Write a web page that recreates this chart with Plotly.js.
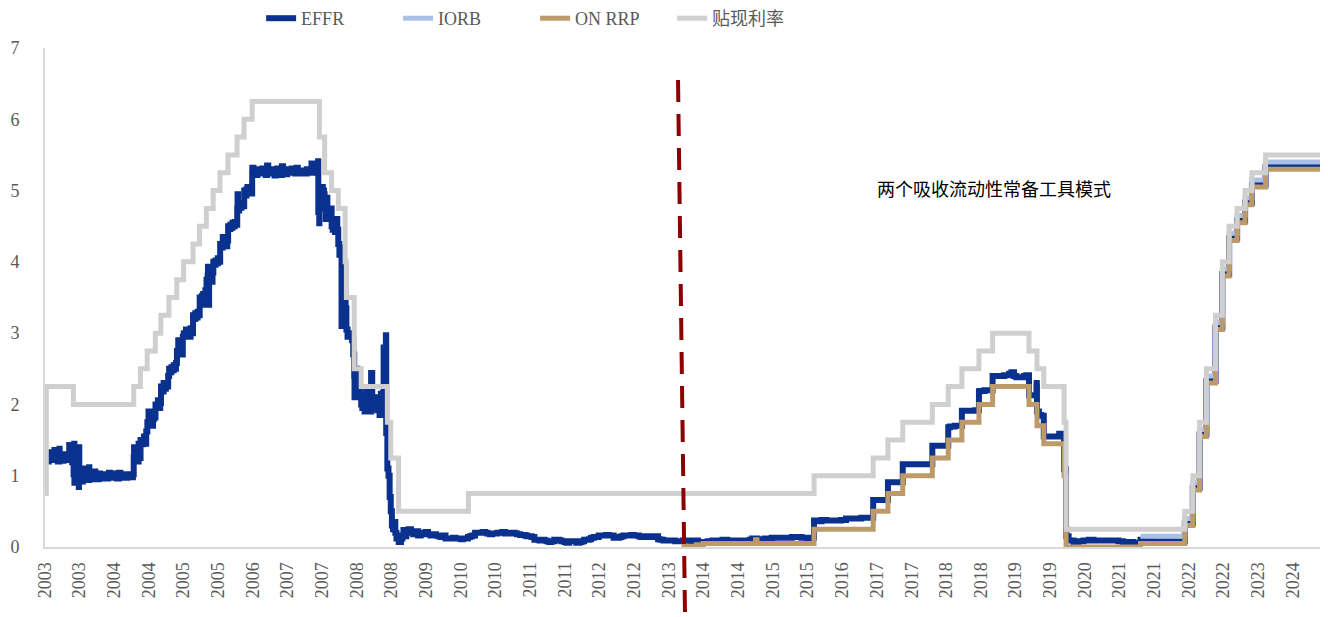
<!DOCTYPE html>
<html>
<head>
<meta charset="utf-8">
<script src="https://cdn.plot.ly/plotly-3.0.1.min.js"></script>
<style>
  html, body { margin: 0; padding: 0; background: #ffffff; }
  #chart { width: 1328px; height: 617px; }
</style>
</head>
<body>
<div id="chart"></div>
<script>
// ---------- tick labels (category-style labels every ~0.58 year) ----------
const tickDates = ['2003-01-02','2003-08-01','2004-03-02','2004-10-02','2005-05-03','2005-12-02','2006-07-03',
  '2007-02-02','2007-09-03','2008-04-04','2008-11-03','2009-06-05','2010-01-04','2010-08-05','2011-03-06',
  '2011-10-06','2012-05-06','2012-12-06','2013-07-07','2014-02-05','2014-09-07','2015-04-08','2015-11-07',
  '2016-06-08','2017-01-08','2017-08-09','2018-03-10','2018-10-09','2019-05-10','2019-12-09','2020-07-10',
  '2021-02-09','2021-09-10','2022-04-11','2022-11-10','2023-06-11','2024-01-11'];
const tickLabels = ['2003','2003','2004','2004','2005','2005','2006','2007','2007','2008','2008','2009','2010',
  '2010','2011','2011','2012','2012','2013','2014','2014','2015','2015','2016','2017','2017','2018','2018',
  '2019','2019','2020','2021','2021','2022','2022','2023','2024'];

// ---------- 贴现利率 (discount rate, change points) ----------
const discDates = ['2003-01-02','2003-01-09','2003-06-25','2004-06-30','2004-08-10','2004-09-21','2004-11-10',
  '2004-12-14','2005-02-02','2005-03-22','2005-05-03','2005-06-30','2005-08-09','2005-09-20','2005-11-01',
  '2005-12-13','2006-01-31','2006-03-28','2006-05-10','2006-06-29','2007-08-17','2007-09-18','2007-10-31',
  '2007-12-11','2008-01-22','2008-01-30','2008-03-18','2008-04-30','2008-10-08','2008-10-29','2008-12-16',
  '2010-02-19','2015-12-17','2016-12-15','2017-03-16','2017-06-15','2017-12-14','2018-03-22','2018-06-14',
  '2018-09-27','2018-12-20','2019-08-01','2019-09-19','2019-10-31','2020-03-04','2020-03-16','2022-03-17',
  '2022-05-05','2022-06-16','2022-07-28','2022-09-22','2022-11-03','2022-12-15','2023-02-02','2023-03-23',
  '2023-05-04','2023-07-27','2024-06-26'];
const discValues = [0.75,2.25,2.00,2.25,2.50,2.75,3.00,3.25,3.50,3.75,4.00,4.25,4.50,4.75,5.00,5.25,5.50,5.75,
  6.00,6.25,5.75,5.25,5.00,4.75,4.00,3.50,2.50,2.25,1.75,1.25,0.50,0.75,1.00,1.25,1.50,1.75,2.00,2.25,2.50,2.75,
  3.00,2.75,2.50,2.25,1.75,0.25,0.50,1.00,1.75,2.50,3.25,4.00,4.50,4.75,5.00,5.25,5.50,5.50];

// ---------- IORB ----------
const iorbDates = ['2021-06-17','2022-03-17','2022-05-05','2022-06-16','2022-07-28','2022-09-22','2022-11-03',
  '2022-12-15','2023-02-02','2023-03-23','2023-05-04','2023-07-27','2024-06-26'];
const iorbValues = [0.15,0.40,0.90,1.65,2.40,3.15,3.90,4.40,4.65,4.90,5.15,5.40,5.40];

// ---------- ON RRP ----------
const rrpDates = ['2013-09-23','2013-12-23','2014-02-03','2014-12-22','2014-12-31','2015-12-17','2016-12-15',
  '2017-03-16','2017-06-15','2017-12-14','2018-03-22','2018-06-14','2018-09-27','2018-12-20','2019-08-01',
  '2019-09-19','2019-10-31','2020-03-04','2020-03-16','2021-06-17','2022-03-17','2022-05-05','2022-06-16',
  '2022-07-28','2022-09-22','2022-11-03','2022-12-15','2023-02-02','2023-03-23','2023-05-04','2023-07-27',
  '2024-06-26'];
const rrpValues = [0.01,0.03,0.05,0.10,0.05,0.25,0.50,0.75,1.00,1.25,1.50,1.75,2.00,2.25,2.00,1.70,1.45,1.00,
  0.00,0.05,0.30,0.80,1.55,2.30,3.05,3.80,4.30,4.55,4.80,5.05,5.30,5.30];

// ---------- EFFR ----------
const effrDates = [
 '2003-01-02','2003-01-10','2003-01-17','2003-01-24','2003-01-31','2003-02-07','2003-02-14','2003-02-21','2003-02-28',
 '2003-03-07','2003-03-14','2003-03-21','2003-03-31','2003-04-01','2003-04-11','2003-04-18','2003-04-25','2003-05-01',
 '2003-05-09','2003-05-16','2003-05-23','2003-05-30','2003-06-02','2003-06-10','2003-06-17','2003-06-24','2003-06-26',
 '2003-06-30','2003-07-01','2003-07-07','2003-07-14','2003-07-21','2003-07-28','2003-07-29','2003-07-31','2003-08-08',
 '2003-08-15','2003-08-22','2003-08-29','2003-09-05','2003-09-12','2003-09-19','2003-09-30','2003-10-01','2003-10-10',
 '2003-10-17','2003-10-24','2003-10-31','2003-11-07','2003-11-14','2003-11-21','2003-11-28','2003-12-05','2003-12-12',
 '2003-12-19','2003-12-31',
 '2004-01-09','2004-01-16','2004-01-23','2004-01-30','2004-02-06','2004-02-13','2004-02-20','2004-02-27','2004-03-05',
 '2004-03-12','2004-03-19','2004-03-31','2004-04-09','2004-04-16','2004-04-23','2004-04-30','2004-05-07','2004-05-14',
 '2004-05-21','2004-05-28','2004-06-04','2004-06-11','2004-06-18','2004-06-25','2004-06-30','2004-07-02','2004-07-09',
 '2004-07-16','2004-07-23','2004-07-30','2004-08-06','2004-08-11','2004-08-18','2004-08-25','2004-09-01','2004-09-10',
 '2004-09-15','2004-09-22','2004-09-29','2004-10-06','2004-10-13','2004-10-20','2004-10-27','2004-11-03','2004-11-11',
 '2004-11-18','2004-11-26','2004-12-03','2004-12-10','2004-12-15','2004-12-22','2004-12-31',
 '2005-01-07','2005-01-14','2005-01-21','2005-01-28','2005-02-03','2005-02-10','2005-02-17','2005-02-24','2005-03-03',
 '2005-03-10','2005-03-17','2005-03-23','2005-03-31','2005-04-07','2005-04-14','2005-04-21','2005-04-28','2005-05-04',
 '2005-05-11','2005-05-18','2005-05-25','2005-06-01','2005-06-08','2005-06-15','2005-06-22','2005-06-30','2005-07-07',
 '2005-07-14','2005-07-21','2005-07-28','2005-08-04','2005-08-10','2005-08-17','2005-08-24','2005-08-31','2005-09-01',
 '2005-09-07','2005-09-14','2005-09-21','2005-09-28','2005-09-30','2005-10-03','2005-10-07','2005-10-14','2005-10-21',
 '2005-10-28','2005-11-02','2005-11-09','2005-11-16','2005-11-23','2005-11-30','2005-12-07','2005-12-14','2005-12-21',
 '2005-12-30',
 '2006-01-06','2006-01-13','2006-01-20','2006-01-27','2006-02-01','2006-02-08','2006-02-15','2006-02-22','2006-02-28',
 '2006-03-07','2006-03-14','2006-03-21','2006-03-29','2006-03-31','2006-04-03','2006-04-10','2006-04-17','2006-04-24',
 '2006-05-01','2006-05-11','2006-05-18','2006-05-25','2006-05-31','2006-06-07','2006-06-14','2006-06-21','2006-06-29',
 '2006-06-30','2006-07-07','2006-07-14','2006-07-21','2006-07-31','2006-08-07','2006-08-14','2006-08-21','2006-08-31',
 '2006-09-07','2006-09-14','2006-09-21','2006-09-29','2006-10-06','2006-10-13','2006-10-20','2006-10-31','2006-11-07',
 '2006-11-14','2006-11-21','2006-11-30','2006-12-07','2006-12-14','2006-12-21','2006-12-29',
 '2007-01-05','2007-01-12','2007-01-19','2007-01-31','2007-02-07','2007-02-14','2007-02-21','2007-02-28','2007-03-07',
 '2007-03-14','2007-03-21','2007-03-30','2007-04-06','2007-04-13','2007-04-20','2007-04-30','2007-05-07','2007-05-14',
 '2007-05-21','2007-05-31','2007-06-07','2007-06-14','2007-06-21','2007-06-29','2007-07-06','2007-07-13','2007-07-20',
 '2007-07-31','2007-08-06','2007-08-09','2007-08-10','2007-08-13','2007-08-16','2007-08-17','2007-08-24','2007-08-31',
 '2007-09-07','2007-09-14','2007-09-18','2007-09-25','2007-09-28','2007-10-05','2007-10-12','2007-10-19','2007-10-26',
 '2007-10-31','2007-11-07','2007-11-14','2007-11-21','2007-11-28','2007-12-05','2007-12-11','2007-12-18','2007-12-24',
 '2007-12-31',
 '2008-01-02','2008-01-09','2008-01-16','2008-01-22','2008-01-25','2008-01-30','2008-02-06','2008-02-13','2008-02-20',
 '2008-02-27','2008-03-05','2008-03-12','2008-03-18','2008-03-20','2008-03-31','2008-04-07','2008-04-15','2008-04-22',
 '2008-04-30','2008-05-07','2008-05-14','2008-05-21','2008-05-30','2008-06-06','2008-06-13','2008-06-20','2008-06-30',
 '2008-07-07','2008-07-14','2008-07-21','2008-07-31','2008-08-07','2008-08-14','2008-08-21','2008-08-29','2008-09-05',
 '2008-09-12','2008-09-15','2008-09-17','2008-09-24','2008-09-29','2008-10-01','2008-10-08','2008-10-15','2008-10-22',
 '2008-10-29','2008-11-05','2008-11-12','2008-11-19','2008-11-26','2008-12-03','2008-12-10','2008-12-17','2008-12-31',
 '2009-01-09','2009-01-15','2009-01-23','2009-02-02','2009-02-16','2009-03-02','2009-03-16','2009-03-31','2009-04-15',
 '2009-05-01','2009-05-15','2009-06-01','2009-06-15','2009-07-01','2009-07-15','2009-08-03','2009-08-17','2009-09-01',
 '2009-09-15','2009-10-01','2009-10-15','2009-11-02','2009-11-16','2009-12-01','2009-12-15',
 '2010-01-04','2010-01-15','2010-02-01','2010-02-16','2010-03-01','2010-03-15','2010-04-01','2010-04-15','2010-05-03',
 '2010-05-17','2010-06-01','2010-06-15','2010-07-01','2010-07-15','2010-08-02','2010-08-16','2010-09-01','2010-09-15',
 '2010-10-01','2010-10-15','2010-11-01','2010-11-15','2010-12-01','2010-12-15',
 '2011-01-03','2011-01-18','2011-02-01','2011-02-15','2011-03-01','2011-03-15','2011-04-01','2011-04-15','2011-05-02',
 '2011-05-16','2011-06-01','2011-06-15','2011-07-01','2011-07-15','2011-08-01','2011-08-15','2011-09-01','2011-09-15',
 '2011-10-03','2011-10-17','2011-11-01','2011-11-15','2011-12-01','2011-12-15',
 '2012-01-03','2012-01-17','2012-02-01','2012-02-15','2012-03-01','2012-03-15','2012-04-02','2012-04-16','2012-05-01',
 '2012-05-15','2012-06-01','2012-06-15','2012-07-02','2012-07-16','2012-08-01','2012-08-15','2012-09-04','2012-09-17',
 '2012-10-01','2012-10-15','2012-11-01','2012-11-15','2012-12-03','2012-12-17',
 '2013-01-02','2013-01-15','2013-02-01','2013-02-15','2013-03-01','2013-03-15','2013-04-01','2013-04-15','2013-05-01',
 '2013-05-15','2013-06-03','2013-06-17','2013-07-01','2013-07-15','2013-08-01','2013-08-15','2013-09-03','2013-09-16',
 '2013-10-01','2013-10-15','2013-11-01','2013-11-15','2013-12-02','2013-12-16',
 '2014-01-02','2014-01-15','2014-02-03','2014-02-18','2014-03-03','2014-03-17','2014-04-01','2014-04-15','2014-05-01',
 '2014-05-15','2014-06-02','2014-06-16','2014-07-01','2014-07-15','2014-08-01','2014-08-15','2014-09-02','2014-09-15',
 '2014-10-01','2014-10-15','2014-11-03','2014-11-17','2014-12-01','2014-12-15',
 '2015-01-02','2015-01-15','2015-02-02','2015-02-17','2015-03-02','2015-03-16','2015-04-01','2015-04-15','2015-05-01',
 '2015-05-15','2015-06-01','2015-06-15','2015-07-01','2015-07-15','2015-08-03','2015-08-17','2015-09-01','2015-09-15',
 '2015-10-01','2015-10-15','2015-11-02','2015-11-16','2015-12-01','2015-12-16','2015-12-17',
 '2016-01-04','2016-02-01','2016-03-01','2016-04-01','2016-05-02','2016-06-01','2016-07-01','2016-08-01','2016-09-01',
 '2016-10-03','2016-11-01','2016-12-01','2016-12-15',
 '2017-01-03','2017-02-01','2017-03-01','2017-03-16','2017-04-03','2017-05-01','2017-06-01','2017-06-15','2017-07-03',
 '2017-08-01','2017-09-01','2017-10-02','2017-11-01','2017-12-01','2017-12-14',
 '2018-01-02','2018-02-01','2018-03-01','2018-03-22','2018-04-02','2018-05-01','2018-06-01','2018-06-14','2018-07-02',
 '2018-08-01','2018-09-04','2018-09-27','2018-10-01','2018-11-01','2018-12-03','2018-12-20',
 '2019-01-02','2019-02-01','2019-03-01','2019-04-01','2019-04-15','2019-05-01','2019-05-15','2019-06-03','2019-06-17',
 '2019-07-01','2019-07-15','2019-08-01','2019-08-15','2019-09-03','2019-09-16','2019-09-17','2019-09-18','2019-09-19',
 '2019-10-01','2019-10-15','2019-10-31','2019-11-15','2019-12-02','2019-12-31',
 '2020-01-15','2020-02-03','2020-02-18','2020-03-04','2020-03-16','2020-03-18','2020-04-01','2020-05-01','2020-06-01',
 '2020-07-01','2020-08-03','2020-09-01','2020-10-01','2020-11-02','2020-12-01',
 '2021-01-04','2021-02-01','2021-03-01','2021-04-01','2021-05-03','2021-06-01','2021-06-17','2021-07-01','2021-08-02',
 '2021-09-01','2021-10-01','2021-11-01','2021-12-01',
 '2022-01-03','2022-02-01','2022-03-17','2022-05-05','2022-06-16','2022-07-28','2022-09-22','2022-11-03','2022-12-15',
 '2023-02-02','2023-03-23','2023-05-04','2023-07-27','2024-06-26'];
const effrValues = [
 1.24,1.30,1.20,1.28,1.33,1.22,1.30,1.25,1.36,
 1.22,1.27,1.20,1.38,1.24,1.28,1.21,1.30,1.26,
 1.22,1.30,1.24,1.43,1.22,1.28,1.19,1.25,1.02,
 1.45,0.90,1.05,0.98,1.02,0.84,1.40,0.95,1.02,
 0.92,1.00,1.10,0.96,1.02,0.94,1.12,0.98,1.01,
 0.95,1.00,1.06,0.98,1.00,0.95,1.03,0.98,1.00,
 0.96,1.02,
 0.99,0.96,1.01,1.04,0.98,1.00,0.97,1.03,0.99,
 1.00,0.96,1.04,0.99,1.00,0.97,1.02,1.00,0.97,
 1.02,0.99,1.00,1.01,0.98,1.02,1.26,1.40,1.22,
 1.28,1.20,1.45,1.25,1.50,1.44,1.50,1.55,1.45,
 1.62,1.75,1.90,1.72,1.78,1.70,1.80,1.82,2.00,
 1.96,2.06,1.95,2.02,2.25,2.18,2.30,
 2.22,2.30,2.25,2.40,2.50,2.45,2.52,2.48,2.55,
 2.50,2.58,2.75,2.90,2.72,2.78,2.70,2.95,3.00,
 2.96,3.05,2.98,3.02,2.95,3.07,3.00,3.25,3.20,
 3.28,3.22,3.30,3.25,3.50,3.45,3.52,3.55,3.40,
 3.48,3.60,3.75,3.80,3.93,3.40,3.76,3.78,3.72,
 3.85,4.00,3.96,4.02,3.98,4.05,4.00,4.25,4.20,
 4.35,
 4.24,4.28,4.22,4.30,4.50,4.46,4.52,4.48,4.55,
 4.50,4.56,4.52,4.75,4.95,4.72,4.80,4.76,4.82,
 4.78,5.00,4.93,5.02,5.05,4.98,5.02,4.96,5.25,
 5.32,5.24,5.27,5.22,5.30,5.26,5.24,5.28,5.31,
 5.25,5.27,5.22,5.35,5.25,5.27,5.24,5.30,5.26,
 5.21,5.27,5.31,5.24,5.26,5.22,5.34,
 5.25,5.27,5.23,5.30,5.26,5.25,5.28,5.31,5.25,
 5.27,5.24,5.32,5.25,5.26,5.24,5.28,5.25,5.26,
 5.24,5.30,5.26,5.28,5.25,5.38,5.27,5.26,5.25,
 5.33,5.26,5.41,4.70,5.00,4.54,5.00,4.95,5.05,
 5.00,4.95,4.75,4.60,4.90,4.75,4.70,4.60,4.75,
 4.50,4.45,4.55,4.42,4.60,4.45,4.25,4.10,4.20,
 3.10,
 4.20,4.00,3.95,3.55,3.35,3.05,2.95,3.00,2.97,
 2.95,2.90,2.70,2.40,2.10,2.50,2.25,2.30,2.15,
 2.00,1.95,2.05,1.90,2.20,1.98,2.05,1.90,2.44,
 2.05,1.95,2.10,2.00,1.92,2.05,1.85,2.15,1.95,
 2.16,2.80,1.90,2.30,2.97,1.60,1.10,1.00,0.70,
 0.50,0.30,0.25,0.35,0.20,0.12,0.15,0.07,0.12,
 0.16,0.24,0.15,0.22,0.25,0.20,0.18,0.22,0.16,
 0.18,0.20,0.21,0.18,0.16,0.18,0.16,0.15,0.14,
 0.16,0.12,0.12,0.12,0.13,0.12,0.12,
 0.11,0.12,0.12,0.14,0.15,0.16,0.20,0.20,0.20,
 0.21,0.20,0.19,0.18,0.19,0.19,0.20,0.20,0.21,
 0.19,0.20,0.19,0.20,0.19,0.18,
 0.17,0.17,0.16,0.15,0.15,0.14,0.10,0.10,0.09,
 0.10,0.09,0.08,0.07,0.08,0.10,0.10,0.09,0.08,
 0.07,0.06,0.08,0.08,0.08,0.06,
 0.07,0.08,0.10,0.10,0.11,0.13,0.14,0.14,0.16,
 0.16,0.16,0.17,0.16,0.16,0.13,0.13,0.14,0.15,
 0.16,0.16,0.16,0.17,0.16,0.16,
 0.15,0.14,0.15,0.15,0.14,0.14,0.15,0.15,0.11,
 0.10,0.09,0.09,0.09,0.09,0.09,0.08,0.08,0.08,
 0.09,0.09,0.09,0.08,0.09,0.09,
 0.07,0.07,0.07,0.07,0.08,0.08,0.09,0.09,0.09,
 0.09,0.10,0.10,0.09,0.09,0.09,0.09,0.09,0.09,
 0.09,0.09,0.09,0.10,0.12,0.12,
 0.11,0.11,0.11,0.12,0.12,0.12,0.13,0.13,0.13,
 0.13,0.13,0.13,0.13,0.13,0.14,0.14,0.14,0.14,
 0.13,0.13,0.12,0.12,0.13,0.14,0.37,
 0.36,0.38,0.37,0.37,0.37,0.38,0.40,0.40,0.40,
 0.41,0.41,0.41,0.66,
 0.66,0.66,0.66,0.91,0.91,0.91,0.91,1.16,1.16,
 1.16,1.16,1.16,1.16,1.16,1.42,
 1.42,1.42,1.42,1.68,1.69,1.70,1.70,1.91,1.91,
 1.91,1.92,2.18,2.19,2.20,2.20,2.40,
 2.40,2.40,2.41,2.43,2.45,2.40,2.38,2.38,2.38,
 2.40,2.41,2.13,2.13,2.13,2.25,2.30,2.25,1.90,
 1.85,1.84,1.55,1.55,1.55,1.55,
 1.55,1.59,1.58,1.09,0.25,0.15,0.09,0.05,0.08,
 0.09,0.10,0.09,0.09,0.09,0.09,
 0.09,0.08,0.07,0.07,0.06,0.06,0.10,0.10,0.09,
 0.08,0.08,0.08,0.08,
 0.08,0.08,0.33,0.83,1.58,2.33,3.08,3.83,4.33,
 4.58,4.83,5.08,5.33,5.33];

const seriesNames = ['EFFR', 'IORB', 'ON RRP', '贴现利率'];
const seriesColors = ['#0B318F', '#A9C0E8', '#BC9A6A', '#D0CECE'];
const noteText = '两个吸收流动性常备工具模式';

const traces = [
  {x: effrDates, y: effrValues},
  {x: iorbDates, y: iorbValues},
  {x: rrpDates, y: rrpValues},
  {x: discDates, y: discValues}
].map((s, i) => ({
  type: 'scatter', mode: 'lines', x: s.x, y: s.y, name: seriesNames[i],
  line: {color: seriesColors[i], width: i === 0 ? 6 : 5, shape: 'hv'},
  hoverinfo: 'x+y+name'
}));

// plot area: paper spans y 0..547 px (margin t = 0), y-axis domain top at 48 px
const layout = {
  width: 1328, height: 617,
  margin: {l: 45, r: 8, t: 0, b: 70, pad: 0},
  paper_bgcolor: '#ffffff', plot_bgcolor: '#ffffff',
  font: {family: 'Liberation Serif, serif', color: '#595959', size: 18},
  showlegend: true,
  legend: {
    orientation: 'h', x: 0.1695, y: 1.0, xanchor: 'left', yanchor: 'top',
    font: {family: 'Liberation Serif, "Noto Sans CJK SC", serif', size: 18, color: '#595959'},
    entrywidth: 92, entrywidthmode: 'pixels', traceorder: 'normal', bgcolor: 'rgba(0,0,0,0)'
  },
  xaxis: {
    type: 'date', range: ['2003-01-01', '2024-06-26'],
    tickmode: 'array', tickvals: tickDates, ticktext: tickLabels, tickangle: -90,
    tickfont: {family: 'Liberation Serif, serif', size: 18, color: '#595959'},
    showline: true, linecolor: '#D9D9D9', linewidth: 2, showgrid: false, zeroline: false,
    ticks: '', ticklabelstandoff: 6, fixedrange: true
  },
  yaxis: {
    domain: [0, 0.91225],
    range: [0, 7], tickmode: 'array', tickvals: [0,1,2,3,4,5,6,7],
    tickfont: {family: 'Liberation Serif, serif', size: 18, color: '#595959'},
    showline: true, linecolor: '#D9D9D9', linewidth: 2, showgrid: false, zeroline: false,
    ticks: '', ticklabelstandoff: 20, fixedrange: true
  },
  shapes: [{
    type: 'line', xref: 'paper', yref: 'paper',
    x0: 0.4965, y0: 0.8537, x1: 0.5020, y1: -0.13,
    line: {color: '#8B0000', width: 4, dash: '22px,12px'}
  }],
  annotations: [{
    xref: 'paper', yref: 'paper', x: 0.744, y: 0.6563, xanchor: 'center', yanchor: 'middle',
    showarrow: false, text: noteText,
    font: {family: '"Noto Sans CJK SC", sans-serif', size: 18, color: '#000000'}
  }]
};

Plotly.newPlot('chart', traces, layout, {displayModeBar: false, staticPlot: true});
</script>
</body>
</html>
